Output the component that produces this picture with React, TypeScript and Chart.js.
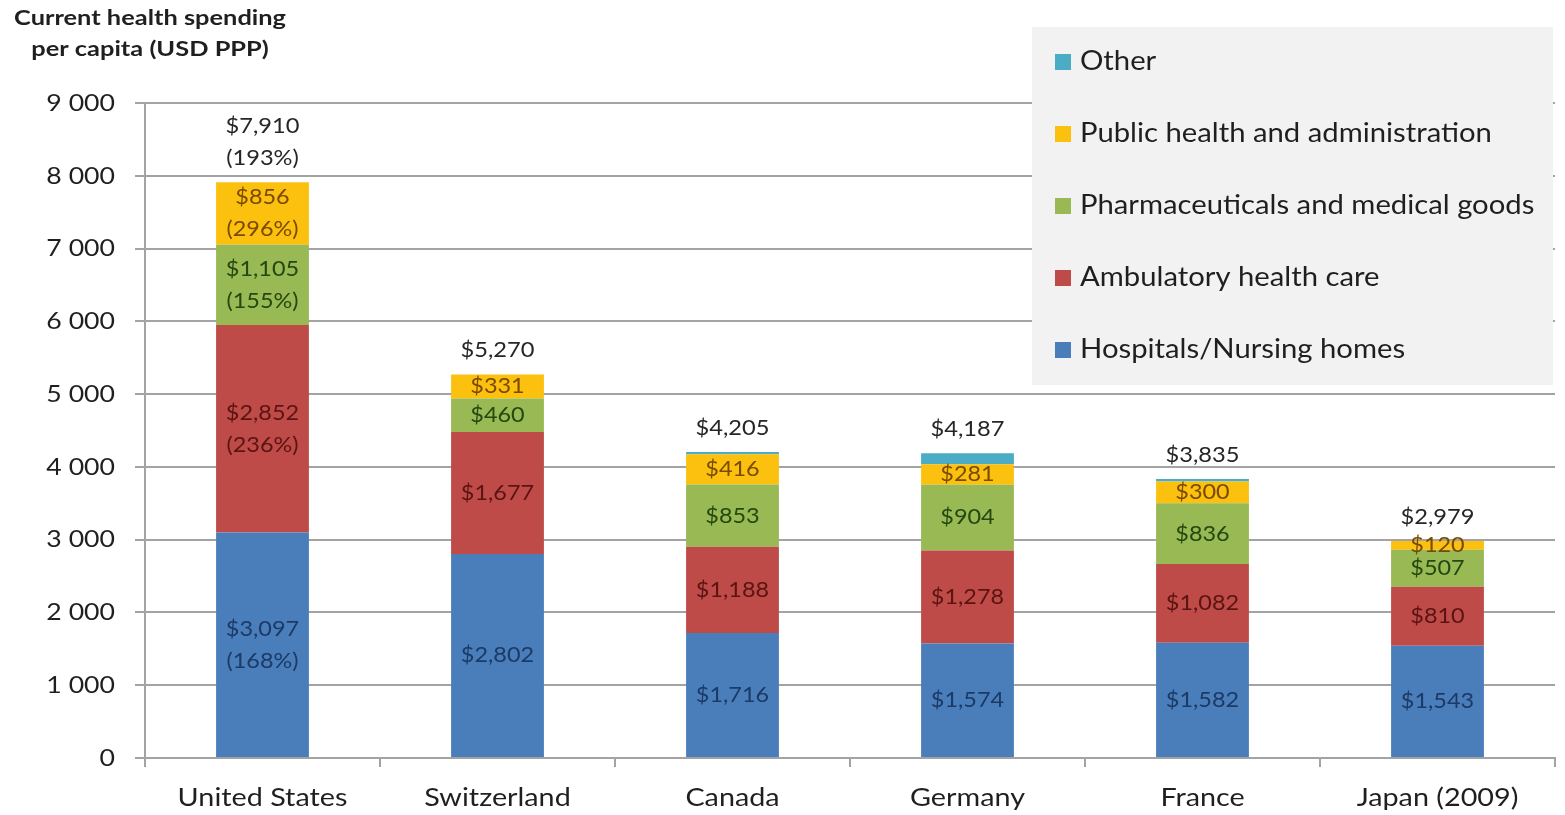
import React, { useEffect, useRef } from "react";
import { Chart, registerables } from "chart.js";

Chart.register(...registerables);

const categories = ["United States", "Switzerland", "Canada", "Germany", "France", "Japan (2009)"];
const hospitals = [3097, 2802, 1716, 1574, 1582, 1543];
const ambulatory = [2852, 1677, 1188, 1278, 1082, 810];
const pharma = [1105, 460, 853, 904, 836, 507];
const publicHealth = [856, 331, 416, 281, 300, 120];
const other = [0, 0, 32, 150, 35, 0];
const totals = [7910, 5270, 4205, 4187, 3835, 2979];

const hospitalsPct = ["(168%)", "", "", "", "", ""];
const ambulatoryPct = ["(236%)", "", "", "", "", ""];
const pharmaPct = ["(155%)", "", "", "", "", ""];
const publicPct = ["(296%)", "", "", "", "", ""];
const totalPct = ["(193%)", "", "", "", "", ""];

const seriesNames = [
  "Hospitals/Nursing homes",
  "Ambulatory health care",
  "Pharmaceuticals and medical goods",
  "Public health and administration",
  "Other",
];
const seriesColors = ["#4A7EBB", "#BE4B48", "#98B954", "#FBC10E", "#4BACC6"];
const labelColors = ["#1B3A66", "#5A1412", "#24480F", "#7A4A00", "#1B4F60"];

const FONT = "Lato, Carlito, 'Open Sans', sans-serif";
const GRID = "#a3a3a3";
const TEXT = "#1f1f1f";

const money = (v: number) => "$" + v.toLocaleString("en-US");
const spaced = (v: number) => String(v).replace(/\B(?=(\d{3})+(?!\d))/g, " ");

function sText(ctx: CanvasRenderingContext2D, text: string, x: number, y: number, align: CanvasTextAlign, sx: number) {
  ctx.save();
  ctx.translate(x, y);
  ctx.scale(sx, 1);
  ctx.textAlign = align;
  ctx.fillText(text, 0, 0);
  ctx.restore();
}

const labelsPlugin = {
  id: "segLabels",
  afterDatasetsDraw(chart: any) {
    const ctx: CanvasRenderingContext2D = chart.ctx;
    const pcts = [hospitalsPct, ambulatoryPct, pharmaPct, publicPct];
    ctx.save();
    ctx.textBaseline = "middle";
    ctx.font = `21.5px ${FONT}`;
    const SX = 1.09;
    for (let d = 0; d < 4; d++) {
      const meta = chart.getDatasetMeta(d);
      meta.data.forEach((el: any, i: number) => {
        const v = chart.data.datasets[d].data[i] as number;
        const lines = [money(v)];
        if (pcts[d][i]) lines.push(pcts[d][i]);
        const cy = (el.y + el.base) / 2;
        const lh = 32;
        ctx.fillStyle = labelColors[d];
        lines.forEach((t, k) => {
          sText(ctx, t, el.x, cy + (k - (lines.length - 1) / 2) * lh, "center", SX);
        });
      });
    }
    // totals
    const ys = chart.scales.y;
    const meta0 = chart.getDatasetMeta(0);
    ctx.fillStyle = "#262626";
    totals.forEach((t, i) => {
      const x = meta0.data[i].x;
      const top = ys.getPixelForValue(t);
      const lines = [money(t)];
      if (totalPct[i]) lines.push(totalPct[i]);
      const lh = 32;
      lines.forEach((s, k) => {
        sText(ctx, s, x, top - 24 - (lines.length - 1 - k) * lh, "center", 1.1);
      });
    });
    ctx.restore();
  },
  afterDraw(chart: any) {
    const ctx: CanvasRenderingContext2D = chart.ctx;
    ctx.save();
    // y tick labels
    const ys = chart.scales.y;
    ctx.fillStyle = TEXT;
    ctx.textBaseline = "middle";
    ctx.font = `24px ${FONT}`;
    ys.ticks.forEach((t: any) => {
      sText(ctx, spaced(t.value), 115, ys.getPixelForValue(t.value), "right", 1.11);
    });
    // x category labels
    const xs = chart.scales.x;
    ctx.font = `25px ${FONT}`;
    ctx.textBaseline = "alphabetic";
    chart.data.labels.forEach((lab: string, i: number) => {
      sText(ctx, lab, xs.getPixelForValue(i), 806, "center", 1.15);
    });
    // legend box
    ctx.fillStyle = "#f2f2f2";
    ctx.fillRect(1032, 27, 521, 358);
    ctx.font = `26px ${FONT}`;
    ctx.textBaseline = "middle";
    const order = [4, 3, 2, 1, 0];
    order.forEach((d, k) => {
      const cy = 62 + k * 72;
      ctx.fillStyle = seriesColors[d];
      ctx.fillRect(1055, cy - 8, 16, 16);
      ctx.fillStyle = TEXT;
      sText(ctx, chart.data.datasets[d].label, 1080, cy, "left", 1.125);
    });
    // axis title
    ctx.font = `bold 20px ${FONT}`;
    ctx.fillStyle = TEXT;
    sText(ctx, "Current health spending", 150, 19, "center", 1.27);
    sText(ctx, "per capita (USD PPP)", 150, 50, "center", 1.27);
    ctx.restore();
  },
};

export default function App() {
  const ref = useRef<HTMLCanvasElement | null>(null);
  useEffect(() => {
    if (!ref.current) return;
    const series = [hospitals, ambulatory, pharma, publicHealth, other];
    const chart = new Chart(ref.current, {
      type: "bar",
      data: {
        labels: categories,
        datasets: series.map((s, i) => ({
          label: seriesNames[i],
          data: s,
          backgroundColor: seriesColors[i],
          borderWidth: 0,
          barPercentage: 0.395,
          categoryPercentage: 1,
        })),
      },
      options: {
        animation: false,
        responsive: false,
        maintainAspectRatio: false,
        layout: { padding: { top: 103, right: 10, left: 0, bottom: 0 } },
        plugins: {
          legend: { display: false },
          tooltip: { enabled: false },
          title: { display: false },
        },
        scales: {
          x: {
            stacked: true,
            grid: {
              display: true,
              drawOnChartArea: false,
              drawTicks: true,
              tickLength: 9,
              color: GRID,
              lineWidth: 2,
              offset: true,
            },
            border: { color: GRID, width: 2 },
            ticks: { display: false },
            afterFit: (s: any) => {
              s.height = 57;
            },
          },
          y: {
            stacked: true,
            min: 0,
            max: 9000,
            ticks: { stepSize: 1000, display: false },
            grid: { color: GRID, lineWidth: 2, tickLength: 10 },
            border: { color: GRID, width: 2 },
            afterFit: (s: any) => {
              s.width = 145;
            },
          },
        },
      },
      plugins: [labelsPlugin],
    });
    return () => chart.destroy();
  }, []);
  return (
    <div style={{ position: "absolute", left: 0, top: 0, width: 1565, height: 815, background: "#fff" }}>
      <canvas ref={ref} width={1565} height={815} style={{ width: 1565, height: 815 }} />
    </div>
  );
}
